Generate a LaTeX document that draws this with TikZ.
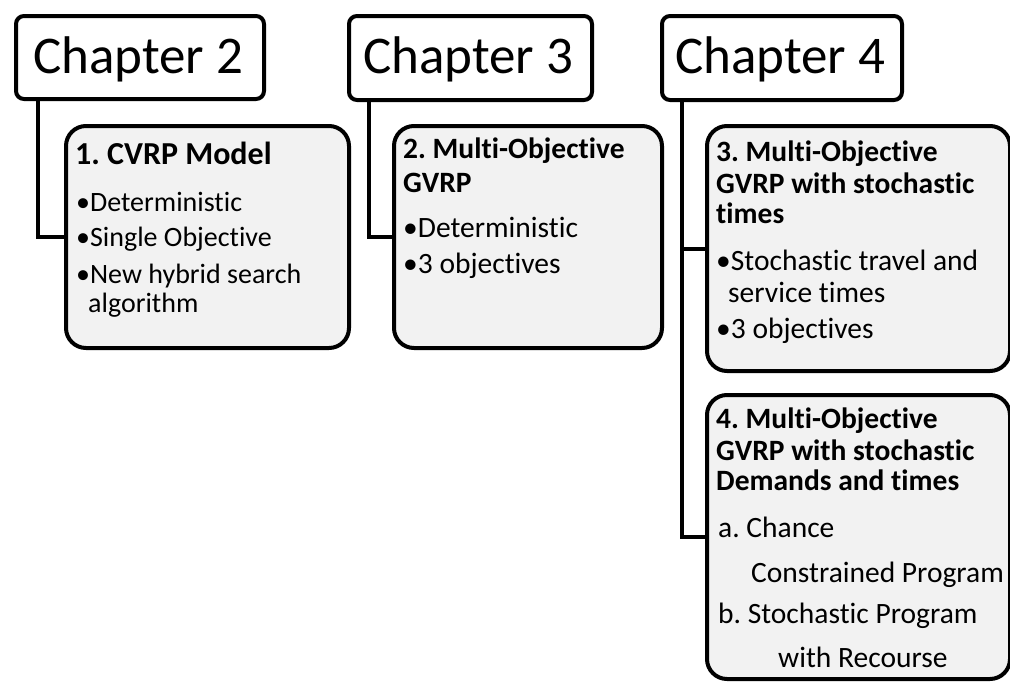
\documentclass[tikz,border=0pt]{standalone}
\usepackage{fontspec}
\setmainfont[Ligatures=NoCommon]{Carlito}
\frenchspacing
\definecolor{boxgray}{HTML}{F2F2F2}
\begin{document}
\begin{tikzpicture}[x=1pt,y=-1pt,
  chapbox/.style={draw, line width=4pt, rounded corners=8pt, fill=white,
    inner sep=0pt, anchor=north west},
  topicbox/.style={draw, line width=4pt, rounded corners=20pt, fill=boxgray,
    inner sep=0pt, anchor=north west},
  link/.style={line width=4pt},
  chaptext/.style={anchor=base, inner sep=0pt, font=\fontsize{53}{64}\selectfont},
  ttl/.style={anchor=base west, inner sep=0pt, font=\bfseries\fontsize{29.5}{35}\selectfont},
  bigttl/.style={anchor=base west, inner sep=0pt, font=\bfseries\fontsize{32}{38}\selectfont},
  body/.style={anchor=base west, inner sep=0pt, font=\fontsize{28}{33}\selectfont},
  bodyl/.style={anchor=base west, inner sep=0pt, font=\fontsize{29.5}{35}\selectfont}]
\useasboundingbox (0,0) rectangle (1010,683);

% chapter headers
\node[chapbox, minimum width=248pt, minimum height=83pt] (ch2) at (14,14) {};
\node[chapbox, minimum width=243pt, minimum height=84pt] (ch3) at (347,14) {};
\node[chapbox, minimum width=240pt, minimum height=84pt] (ch4) at (660,14) {};
\node[chaptext] (ch2t) at (138,73) {Chapter 2};
\node[chaptext] (ch3t) at (468,73) {Chapter 3};
\node[chaptext] (ch4t) at (780,73) {Chapter 4};

% topic boxes
\node[topicbox, minimum width=283pt, minimum height=222pt] (b1) at (64,124) {};
\node[topicbox, minimum width=268pt, minimum height=222pt] (b2) at (392,124) {};
\node[topicbox, minimum width=303pt, minimum height=245pt] (b3) at (705,124) {};
\node[topicbox, minimum width=303pt, minimum height=284pt] (b4) at (705,393) {};

% connectors
\draw[link] ([xshift=24pt]ch2.south west) |- (b1.west);
\draw[link] ([xshift=22pt]ch3.south west) |- (b2.west);
\draw[link] ([xshift=22pt]ch4.south west) |- (b3.west);
\draw[link] ([xshift=22pt]ch4.south west) |- (b4.west);

% box 1
\node[bigttl] (t1) at (75,164) {1. CVRP Model};
\node[body] (t1a) at (76,211) {•Deterministic};
\node[body] (t1b) at (76,246) {•Single Objective};
\node[body] (t1c) at (76,283) {•New hybrid search};
\node[body] (t1d) at (88,312) {algorithm};

% box 2
\node[ttl] (t2) at (403,158) {2. Multi-Objective};
\node[ttl] (t2b) at (403,192) {GVRP};
\node[bodyl] (t2c) at (403,237) {•Deterministic};
\node[bodyl] (t2d) at (403,273) {•3 objectives};

% box 3
\node[ttl] (t3) at (716,161) {3. Multi-Objective};
\node[ttl] (t3b) at (716,193) {GVRP with stochastic};
\node[ttl] (t3c) at (716,223) {times};
\node[bodyl] (t3d) at (716,270) {•Stochastic travel and};
\node[bodyl] (t3e) at (728,302) {service times};
\node[bodyl] (t3f) at (716,338) {•3 objectives};

% box 4
\node[ttl] (t4) at (716,428) {4. Multi-Objective};
\node[ttl] (t4b) at (716,460) {GVRP with stochastic};
\node[ttl] (t4c) at (716,490) {Demands and times};
\node[bodyl] (t4d) at (718,537) {a. Chance};
\node[bodyl] (t4e) at (751,582) {Constrained Program};
\node[bodyl] (t4f) at (718,623) {b. Stochastic Program};
\node[bodyl] (t4g) at (778,667) {with Recourse};
\end{tikzpicture}
\end{document}
